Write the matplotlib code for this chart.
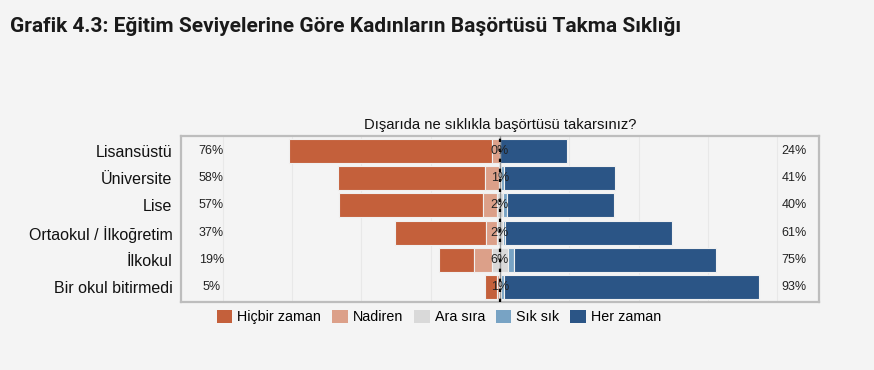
import numpy as np
import matplotlib
matplotlib.use("Agg")
import matplotlib.pyplot as plt
from matplotlib.patches import Patch
from matplotlib import font_manager as fm

# data (percent)
categories = ["Lisansüstü", "Üniversite", "Lise", "Ortaokul / İlkoğretim", "İlkokul", "Bir okul bitirmedi"]
levels = ["Hiçbir zaman", "Nadiren", "Ara sıra", "Sık sık", "Her zaman"]
hicbir = [73, 53, 52, 33, 12.5, 4.5]
nadiren = [3, 5, 5, 4, 6.5, 0.5]
ara_sira = [0, 1, 2, 2, 6, 1]
sik_sik = [0, 1, 1.5, 1, 2, 1]
her_zaman = [24, 40, 38.5, 60, 73, 92]
left_labels = ["76%", "58%", "57%", "37%", "19%", "5%"]
mid_labels = ["0%", "1%", "2%", "2%", "6%", "1%"]
right_labels = ["24%", "41%", "40%", "61%", "75%", "93%"]

colors = ["#c4603b", "#dca089", "#d9d9d9", "#78a3c4", "#2b5586"]
bg = "#f4f4f4"

# find the regular (not narrow) Liberation Sans file
fpath = None
for f in fm.findSystemFonts():
    if f.endswith("LiberationSans-Regular.ttf"):
        fpath = f
        break

def fp(size):
    if fpath:
        return fm.FontProperties(fname=fpath, size=size)
    return fm.FontProperties(family="DejaVu Sans", size=size)

fig = plt.figure(figsize=(8.74, 3.70), dpi=100, facecolor=bg)
ax = fig.add_axes([0.207, 0.184, 0.730, 0.448], facecolor=bg)

y = np.arange(len(categories))
hicbir = np.array(hicbir)
nadiren = np.array(nadiren)
ara_sira = np.array(ara_sira)
sik_sik = np.array(sik_sik)
her_zaman = np.array(her_zaman)

# diverging stack: neutral centered on zero
start = -(hicbir + nadiren + ara_sira / 2)
series = [hicbir, nadiren, ara_sira, sik_sik, her_zaman]
left = start.copy()
for vals, col in zip(series, colors):
    ax.barh(y, vals, left=left, height=0.88, color=col, edgecolor="#f0f0f0", linewidth=0.8, zorder=3)
    left = left + vals

ax.set_xlim(-115, 115)
ax.set_ylim(len(categories) - 0.45, -0.55)

for xv in [-100, -75, -50, -25, 25, 50, 75, 100]:
    ax.axvline(xv, color="#e8e8e8", linewidth=0.8, zorder=1)
ax.axvline(0, color="#999999", linewidth=1.0, zorder=4)
ax.axvline(0, color="black", linewidth=1.6, linestyle=(0, (1.5, 3)), zorder=5)

for i in range(len(categories)):
    ax.text(-104, i, left_labels[i], ha="center", va="center", fontproperties=fp(9), color="#222222", zorder=6)
    ax.text(0, i, mid_labels[i], ha="center", va="center", fontproperties=fp(9), color="#222222", zorder=6)
    ax.text(106, i, right_labels[i], ha="center", va="center", fontproperties=fp(9), color="#222222", zorder=6)

ax.set_yticks(y)
ax.set_yticklabels(categories, fontproperties=fp(11.5), color="#111111")
ax.tick_params(axis="y", length=0, pad=6)
ax.set_xticks([])
for s in ax.spines.values():
    s.set_color("#bdbdbd")
    s.set_linewidth(1.6)

ax.set_title("Dışarıda ne sıklıkla başörtüsü takarsınız?", fontproperties=fp(10.6), color="#111111", pad=5)

handles = [Patch(facecolor=c, edgecolor="none", label=l) for c, l in zip(colors, levels)]
fig.legend(handles=handles, loc="center", bbox_to_anchor=(439 / 874, 1 - 317 / 370), ncol=5, frameon=False,
           prop=fp(10.3), handlelength=1.1, handleheight=1.1,
           handletextpad=0.35, columnspacing=0.75)

fig.text(10 / 874, 1 - 26 / 370, "Grafik 4.3: Eğitim Seviyelerine Göre Kadınların Başörtüsü Takma Sıklığı",
         fontsize=15, fontweight="bold", family="Roboto", color="#1a1a1a", va="center", ha="left")

fig.savefig("out.png", dpi=100, facecolor=bg)
